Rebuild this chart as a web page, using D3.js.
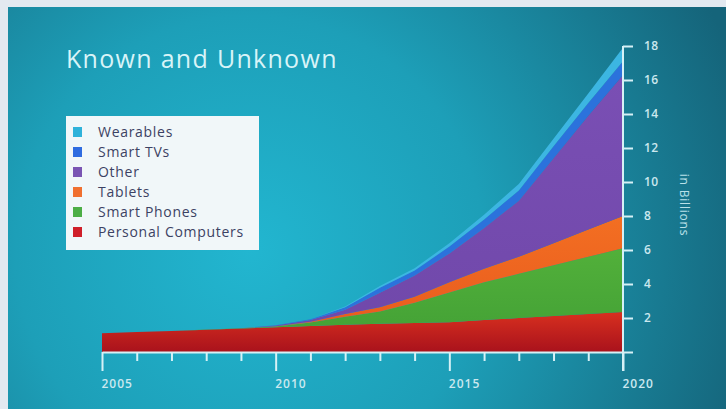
<!DOCTYPE html>
<html>
<head>
<meta charset="utf-8">
<script src="https://cdn.jsdelivr.net/npm/d3@7"></script>
<style>
  body { margin: 0; background: #e3e9f0; }
  svg { display: block; }
</style>
</head>
<body>
<div id="chart"></div>
<script>
// data, in billions
var years = [2005,2006,2007,2008,2009,2010,2011,2012,2013,2014,2015,2016,2017,2018,2019,2020];
var personalComputers = [1.1,1.17,1.24,1.31,1.38,1.45,1.53,1.6,1.66,1.7,1.75,1.88,2.0,2.12,2.24,2.35];
var smartPhones = [0,0,0,0.01,0.02,0.05,0.2,0.48,0.72,1.2,1.75,2.22,2.6,2.98,3.36,3.75];
var tablets = [0,0,0,0,0,0.02,0.05,0.15,0.25,0.35,0.6,0.8,1.0,1.3,1.6,1.9];
var other = [0,0,0,0,0,0.04,0.1,0.25,0.85,1.25,1.7,2.4,3.3,5.0,6.7,8.3];
var smartTVs = [0,0,0,0,0,0.01,0.05,0.15,0.3,0.3,0.4,0.5,0.6,0.7,0.75,0.8];
var wearables = [0,0,0,0,0,0,0,0.05,0.1,0.12,0.2,0.28,0.38,0.45,0.55,0.8];

var seriesNames = ["Personal Computers","Smart Phones","Tablets","Other","Smart TVs","Wearables"];
var seriesValues = [personalComputers, smartPhones, tablets, other, smartTVs, wearables];
var yTicks = [0,2,4,6,8,10,12,14,16,18];
var xLabels = [2005,2010,2015,2020];

var colors = {
  "Personal Computers": ["#d8301f", "#a9121c"],
  "Smart Phones": ["#52b03a", "#44a236"],
  "Tablets": ["#f36f22", "#e85a1e"],
  "Other": ["#7a4fb4", "#7048aa"],
  "Smart TVs": ["#2b72dc", "#2b72dc"],
  "Wearables": ["#3cb6e2", "#3cb6e2"]
};
var swatch = {
  "Wearables": "#2fb2da", "Smart TVs": "#2f6ce0", "Other": "#7a55b3",
  "Tablets": "#f07030", "Smart Phones": "#4cae46", "Personal Computers": "#cf1f2a"
};

var W = 726, H = 409;
var svg = d3.select("#chart").append("svg")
    .attr("width", W)
    .attr("height", H);

var defs = svg.append("defs");

// background gradient
var bg = defs.append("radialGradient")
    .attr("id", "bg")
    .attr("gradientUnits", "userSpaceOnUse")
    .attr("cx", 250).attr("cy", 250).attr("r", 520);
bg.selectAll("stop")
  .data([
    {offset: "0%", color: "#22b6d0"},
    {offset: "45%", color: "#1d9fb8"},
    {offset: "100%", color: "#15647a"}
  ])
  .enter().append("stop")
    .attr("offset", function(d) { return d.offset; })
    .attr("stop-color", function(d) { return d.color; });

svg.append("rect")
    .attr("x", 8).attr("y", 7)
    .attr("width", W - 8).attr("height", H - 7)
    .attr("fill", "url(#bg)");

var x = d3.scaleLinear()
    .domain([2005, 2020])
    .range([102, 623]);

var y = d3.scaleLinear()
    .domain([0, 18])
    .range([352, 46]);

// build table for the stack
var table = years.map(function(yr, i) {
  var row = {year: yr};
  seriesNames.forEach(function(n, j) { row[n] = seriesValues[j][i]; });
  return row;
});

var stacked = d3.stack().keys(seriesNames)(table);

// one vertical gradient per layer
seriesNames.forEach(function(n, j) {
  var g = defs.append("linearGradient")
      .attr("id", "grad" + j)
      .attr("x1", 0).attr("y1", 0).attr("x2", 0).attr("y2", 1);
  g.append("stop").attr("offset", "0%").attr("stop-color", colors[n][0]);
  g.append("stop").attr("offset", "100%").attr("stop-color", colors[n][1]);
});

var area = d3.area()
    .x(function(d) { return x(d.data.year); })
    .y0(function(d) { return y(d[0]); })
    .y1(function(d) { return y(d[1]); });

svg.append("g")
  .selectAll("path")
  .data(stacked)
  .enter().append("path")
    .attr("fill", function(d, i) { return "url(#grad" + i + ")"; })
    .attr("d", area);

var axisColor = "#d6f1f6";
var labelColor = "#cbe8ef";

// X axis
var xAx = svg.append("g")
    .attr("transform", "translate(0,352)")
    .call(d3.axisBottom(x)
      .tickValues(years)
      .tickSize(9)
      .tickSizeOuter(0)
      .tickFormat(function(d) { return xLabels.indexOf(d) >= 0 ? d : ""; }));

xAx.select(".domain").attr("stroke", axisColor).attr("stroke-width", 2);
xAx.selectAll(".tick line")
    .attr("stroke", axisColor)
    .attr("stroke-width", 2)
    .attr("y2", function(d) { return xLabels.indexOf(d) >= 0 ? 19 : 9; });
xAx.selectAll(".tick text")
    .attr("fill", labelColor)
    .attr("font-family", "Open Sans, sans-serif")
    .attr("font-size", 12)
    .attr("font-weight", 600)
    .attr("letter-spacing", 1)
    .attr("text-anchor", "start")
    .attr("dx", -1)
    .attr("y", 27);

// Y axis
var yAx = svg.append("g")
    .attr("transform", "translate(623,0)")
    .call(d3.axisRight(y)
      .tickValues(yTicks)
      .tickSize(10)
      .tickSizeOuter(0)
      .tickFormat(function(d) { return d === 0 ? "" : d; }));

yAx.select(".domain").remove();
yAx.append("line")
    .attr("x1", 0).attr("x2", 0)
    .attr("y1", y(18)).attr("y2", 371)
    .attr("stroke", axisColor)
    .attr("stroke-width", 2);
yAx.selectAll(".tick line")
    .attr("stroke", axisColor)
    .attr("stroke-width", 2);
yAx.selectAll(".tick text")
    .attr("fill", labelColor)
    .attr("font-family", "Open Sans, sans-serif")
    .attr("font-size", 12)
    .attr("font-weight", 600)
    .attr("letter-spacing", 0.5)
    .attr("x", 21);

svg.append("text")
    .attr("transform", "translate(680,205) rotate(90)")
    .attr("text-anchor", "middle")
    .attr("fill", "#b9e0e8")
    .attr("font-family", "Open Sans, sans-serif")
    .attr("font-size", 12)
    .attr("letter-spacing", 0.8)
    .text("in Billions");

// title
svg.append("text")
    .attr("x", 66)
    .attr("y", 68)
    .attr("fill", "#d8f4f8")
    .attr("font-family", "Open Sans, sans-serif")
    .attr("font-size", 25)
    .attr("letter-spacing", 1.3)
    .text("Known and Unknown");

// legend
var legend = svg.append("g");
legend.append("rect")
    .attr("x", 66).attr("y", 116)
    .attr("width", 193).attr("height", 134)
    .attr("fill", "#f1f7f9");

var legendOrder = seriesNames.slice().reverse();
var items = legend.selectAll(".item")
  .data(legendOrder)
  .enter().append("g")
    .attr("class", "item")
    .attr("transform", function(d, i) { return "translate(73," + (127 + i * 20) + ")"; });

items.append("rect")
    .attr("width", 9).attr("height", 10)
    .attr("fill", function(d) { return swatch[d]; });

items.append("text")
    .attr("x", 25)
    .attr("y", 10)
    .attr("fill", "#3c4263")
    .attr("font-family", "Open Sans, sans-serif")
    .attr("font-size", 14)
    .attr("letter-spacing", 0.7)
    .text(function(d) { return d; });
</script>
</body>
</html>
